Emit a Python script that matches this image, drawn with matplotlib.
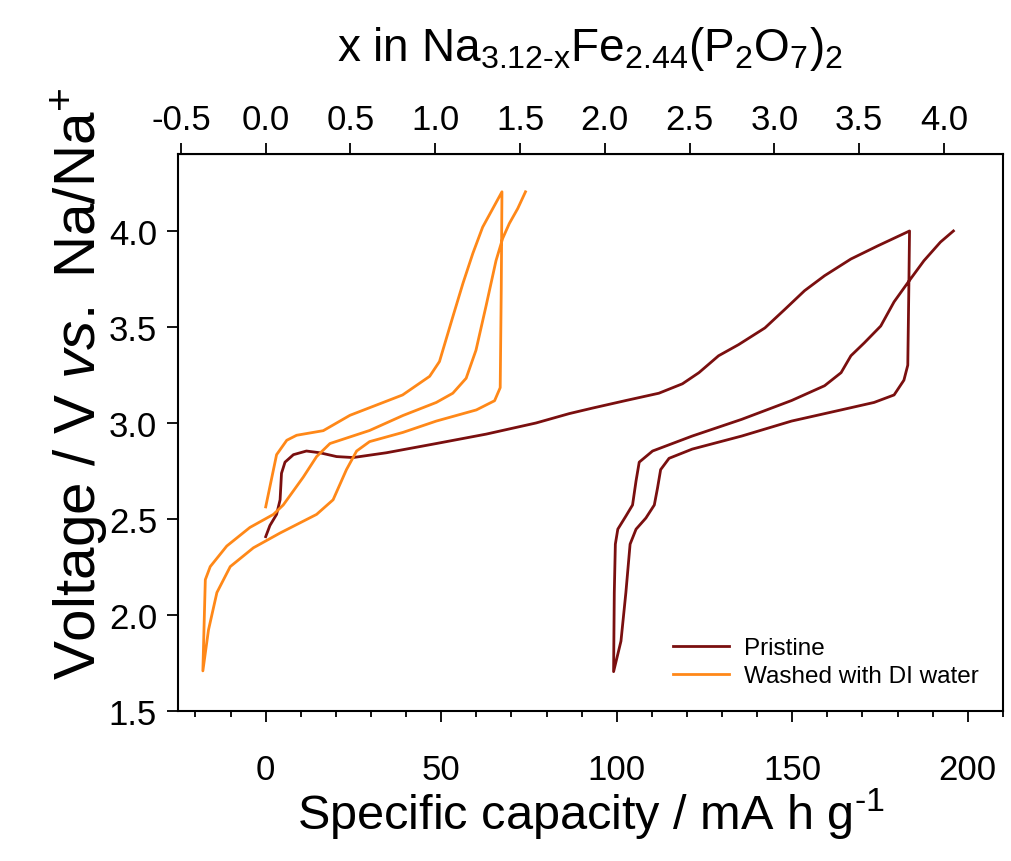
import matplotlib.pyplot as plt
from matplotlib.ticker import MultipleLocator

plt.rcParams['font.family'] = ['Liberation Sans', 'DejaVu Sans']
plt.rcParams['mathtext.fontset'] = 'custom'
plt.rcParams['mathtext.rm'] = 'Liberation Sans'
plt.rcParams['mathtext.it'] = 'Liberation Sans:italic'
plt.rcParams['axes.unicode_minus'] = False

# pristine: charge, discharge, second charge (mA h/g, V)
pristine_cap = [0, 1.2, 3.1, 4.1, 4.5, 5.5, 7.9, 11.6, 15.4, 20.2, 24.9, 34.4, 48.6, 62.8,
                77, 86.5, 93.2, 102.6, 112, 118.7, 123.4, 129, 134.7, 142.2, 147.9, 153.5,
                159.2, 166.7, 174.3, 183.4,
                183.2, 182.9, 181.8, 179, 173.3, 163.9, 149.8, 135.6, 121.5, 114.9, 112.5,
                111.6, 110.7, 108.3, 105.5, 103.8, 102.6, 101.2, 99.1,
                99.3, 99.6, 100.3, 102.6, 104.5, 105.5, 106.4, 110.2, 121.5, 135.6, 149.8,
                159.2, 163.9, 166.7, 170.5, 175.2, 179, 182.8, 187.5, 192.2, 195.9]
pristine_v = [2.408, 2.466, 2.524, 2.60, 2.738, 2.796, 2.835, 2.854, 2.845, 2.825, 2.82,
              2.845, 2.893, 2.942, 3.0, 3.049, 3.078, 3.117, 3.155, 3.204, 3.262, 3.35,
              3.408, 3.495, 3.592, 3.689, 3.767, 3.854, 3.922, 4.0,
              3.7, 3.301, 3.223, 3.146, 3.107, 3.068, 3.01, 2.932, 2.864, 2.816, 2.757,
              2.66, 2.573, 2.505, 2.447, 2.369, 2.117, 1.864, 1.705,
              2.117, 2.369, 2.447, 2.515, 2.573, 2.699, 2.796, 2.854, 2.932, 3.019, 3.117,
              3.194, 3.262, 3.35, 3.417, 3.505, 3.631, 3.728, 3.845, 3.942, 4.0]

# washed with DI water
washed_cap = [0, 3.1, 6, 8.8, 16.4, 24, 39, 46.7, 49.5, 53.3, 56.2, 59, 61.8, 64.7, 67.3,
              67.1, 66.8, 65.2, 60, 48.6, 39.1, 29.6, 25.9, 23, 19.2, 14.5, 4.1, -3.5,
              -10.1, -13.9, -16.3, -17.9,
              -17.2, -15.8, -11.1, -4.5, 2.2, 5.0, 10.7, 14.5, 18.3, 29.6, 39.1, 48.6,
              53.3, 57.1, 59.9, 62.8, 65.6, 67.5, 69.4, 71.8, 74]
washed_v = [2.563, 2.835, 2.91, 2.936, 2.96, 3.04, 3.146, 3.243, 3.32, 3.553, 3.728, 3.883,
            4.02, 4.117, 4.204,
            3.7, 3.184, 3.116, 3.068, 3.01, 2.951, 2.903, 2.854, 2.757, 2.60, 2.524, 2.427,
            2.35, 2.252, 2.117, 1.922, 1.709,
            2.184, 2.252, 2.359, 2.456, 2.524, 2.573, 2.718, 2.825, 2.893, 2.961, 3.039,
            3.107, 3.155, 3.233, 3.379, 3.612, 3.845, 3.961, 4.039, 4.117, 4.204]

cap_per_x = 48.3
top_ticks = [-0.5, 0.0, 0.5, 1.0, 1.5, 2.0, 2.5, 3.0, 3.5, 4.0]

fig = plt.figure(figsize=(10.11, 8.62), dpi=100)
ax = fig.add_axes([0.176, 0.174, 0.816, 0.646])

ax.plot(pristine_cap, pristine_v, color='#7a0f0f', lw=2, label='Pristine')
ax.plot(washed_cap, washed_v, color='#ff8818', lw=2, label='Washed with DI water')

ax.set_xlim(-25, 210)
ax.set_ylim(1.5, 4.4)
ax.xaxis.set_major_locator(MultipleLocator(50))
ax.xaxis.set_minor_locator(MultipleLocator(10))
ax.yaxis.set_major_locator(MultipleLocator(0.5))
ax.yaxis.set_major_formatter('{x:.1f}')
ax.tick_params(axis='both', which='major', direction='out', length=8, width=1.3,
               pad=7, labelsize=25)
ax.tick_params(axis='x', which='minor', direction='out', length=4, width=1.3)
ax.tick_params(axis='x', which='major', pad=22)
for s in ax.spines.values():
    s.set_linewidth(1.5)

ax.set_xlabel('Specific capacity / mA h g$^{‐1}$', fontsize=35, labelpad=0)
ax.set_ylabel('Voltage / V $\\it{vs.}$ Na/Na$^{+}$', fontsize=42)
ax.yaxis.set_label_coords(-0.082, 0.59)

top = ax.secondary_xaxis('top', functions=(lambda c: c / cap_per_x, lambda x: x * cap_per_x))
top.set_xticks(top_ticks)
top.xaxis.set_major_formatter('{x:.1f}')
top.tick_params(direction='out', length=8, width=1.3, pad=5, labelsize=25)
top.set_xlabel('x in Na$_{3.12‐\\mathrm{x}}$Fe$_{2.44}$(P$_2$O$_7$)$_2$', fontsize=33, labelpad=31)

ax.legend(loc='lower right', frameon=False, fontsize=17.5, handlelength=2.3,
          handletextpad=0.6, bbox_to_anchor=(0.997, 0.003), labelspacing=0.25)

fig.savefig('out.png', dpi=100)
